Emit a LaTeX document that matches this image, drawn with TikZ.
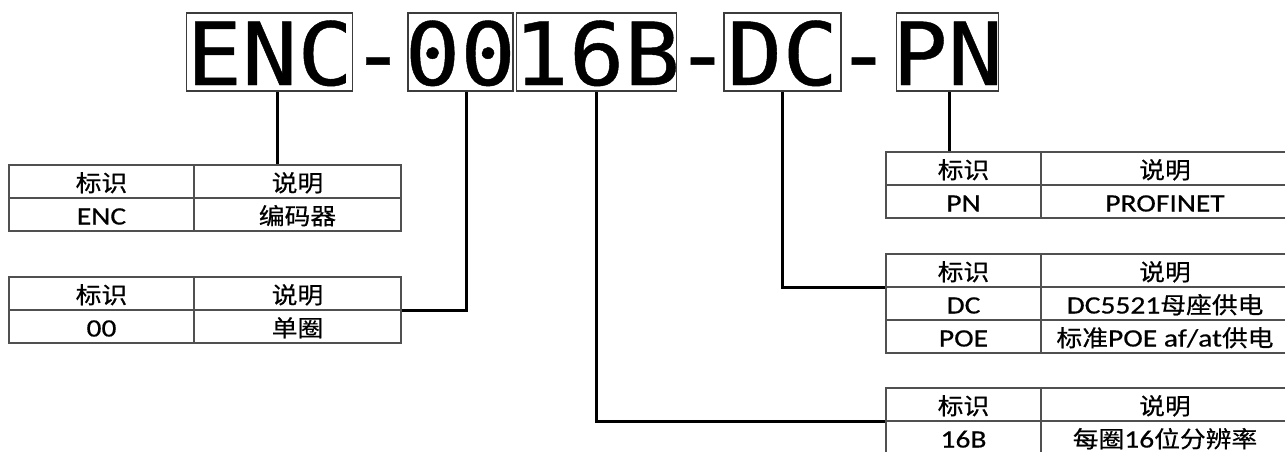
\documentclass[tikz,border=0pt]{standalone}
\usepackage{fontspec}
\setmainfont{Carlito}[FakeStretch=1.18,FakeBold=0.5]
\newfontfamily\zhfont{Noto Sans CJK SC}[FakeStretch=1.12,FakeBold=0.6]
\newfontfamily\codefont{DejaVu Sans Mono}[FakeStretch=1.06,FakeBold=0.5]
\newcommand{\zh}[1]{{\zhfont\fontsize{23}{28}\selectfont #1}}
\newcommand{\segtext}[1]{\makebox[0pt]{#1}}
\usetikzlibrary{positioning}
\definecolor{boxline}{HTML}{3C3C3C}
\definecolor{tabline}{HTML}{505050}

\begin{document}
\begin{tikzpicture}[x=1pt,y=-1pt,
	seg/.style={draw=boxline,line width=1.5pt,inner sep=0pt,minimum height=78pt,
		font=\codefont\fontsize{87}{90}\selectfont,text height=66pt,text depth=0pt},
	cell/.style={draw=tabline,line width=1.3pt,inner sep=0pt,minimum height=33pt,
		font=\fontsize{25}{28}\selectfont,text height=22pt,text depth=2pt},
	link/.style={line width=3pt}]
\useasboundingbox (0,0) rectangle (1285,452);
\clip (0,0) rectangle (1285,452);

% part number
\node[seg,minimum width=166pt] (enc) at (269.7,52) {\segtext{ENC}};
\node[seg,draw=none] (d1) at (378,52) {\segtext{-}};
\node[seg,minimum width=105pt] (zero) at (460.3,52) {\segtext{00}};
\node[seg,minimum width=160pt] (res) at (596.7,52) {\segtext{16B}};
\node[seg,draw=none] (d2) at (702.5,52) {\segtext{-}};
\node[seg,minimum width=117pt] (dc) at (782.5,52) {\segtext{DC}};
\node[seg,draw=none] (d3) at (863.5,52) {\segtext{-}};
\node[seg,minimum width=102pt] (pn) at (947.7,52) {\segtext{PN}};

% left tables
\foreach \n/\y/\a/\b in {ench/181.5/\zh{标识}/\zh{说明},encr/214.5/ENC/\zh{编码器},
		zeroh/293.5/\zh{标识}/\zh{说明},zeror/326.5/00/\zh{单圈}}{
	\node[cell,minimum width=185pt] (\n-a) at (101.5,\y) {\a};
	\node[cell,minimum width=207pt] (\n-b) at (297.5,\y) {\b};
}

% right tables
\foreach \n/\y/\a/\b in {pnh/168.5/\zh{标识}/\zh{说明},pnr/201.5/PN/PROFINET,
		dch/270.5/\zh{标识}/\zh{说明},dcr/303.5/DC/DC5521\zh{母座供电},
		poer/336.5/POE/\zh{标准}POE af\slash at\zh{供电},
		resh/404.5/\zh{标识}/\zh{说明},resr/437.5/16B/\zh{每圈}16\zh{位分辨率}}{
	\node[cell,minimum width=155pt] (\n-a) at (963.5,\y) {\a};
	\node[cell,minimum width=248pt] (\n-b) at (1165,\y) {\b};
}

% connectors
\draw[link] ([xshift=8pt]enc.south) -- ([xshift=8pt]enc.south |- ench-b.north);
\draw[link] ([xshift=6pt]zero.south) |- (zeroh-b.south east);
\draw[link] (res.south) |- (resh-a.south west);
\draw[link] (dc.south) |- (dch-a.south west);
\draw[link] ([xshift=2pt]pn.south) -- ([xshift=2pt]pn.south |- pnh-a.north);
\end{tikzpicture}
\end{document}
